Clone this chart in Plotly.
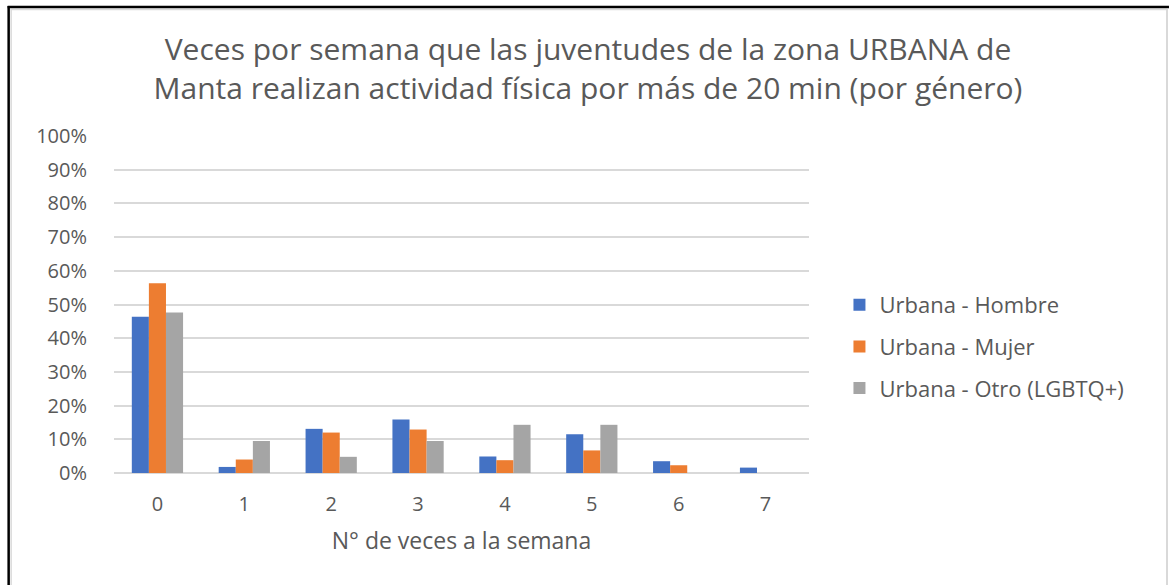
import plotly.graph_objects as go

# Weekly frequency of 20+ minute physical activity, by gender (share of respondents)
categories = ["0", "1", "2", "3", "4", "5", "6", "7"]
hombre = [0.464, 0.018, 0.131, 0.159, 0.049, 0.115, 0.035, 0.016]
mujer = [0.563, 0.040, 0.120, 0.129, 0.038, 0.067, 0.023, 0.0]
otro = [0.476, 0.095, 0.048, 0.095, 0.143, 0.143, 0.0, 0.0]

series_names = ["Urbana - Hombre", "Urbana - Mujer", "Urbana - Otro (LGBTQ+)"]
series_values = [hombre, mujer, otro]
series_colors = ["#4472C4", "#ED7D31", "#A5A5A5"]

W, H = 1170, 585
L, R, T, B = 113.5, 360.5, 136, 112
plot_w = W - L - R
plot_h = H - T - B

TEXT = "#595959"
FONT = "Open Sans"

fig = go.Figure()
for i, (name, vals, col) in enumerate(zip(series_names, series_values, series_colors)):
    fig.add_trace(go.Bar(
        x=categories, y=vals, name=name,
        marker=dict(color=col, line=dict(width=0)),
        legendgroup=f"g{i}",
    ))


def px_x(px):
    return (px - L) / plot_w


def px_y(py):
    return (H - B - py) / plot_h


shapes = [
    # outer frame: light inner border plus dark outline on top/left
    dict(type="line", xref="paper", yref="paper", x0=px_x(10), x1=px_x(1168),
         y0=px_y(9.5), y1=px_y(9.5), line=dict(color="#d9d9d9", width=1.5)),
    dict(type="line", xref="paper", yref="paper", x0=px_x(10.5), x1=px_x(10.5),
         y0=px_y(9), y1=px_y(585), line=dict(color="#d9d9d9", width=1.5)),
    dict(type="line", xref="paper", yref="paper", x0=px_x(1168), x1=px_x(1168),
         y0=px_y(9), y1=px_y(585), line=dict(color="#d9d9d9", width=2)),
    dict(type="line", xref="paper", yref="paper", x0=px_x(7), x1=px_x(1170),
         y0=px_y(7), y1=px_y(7), line=dict(color="#000000", width=2.5)),
    dict(type="line", xref="paper", yref="paper", x0=px_x(8), x1=px_x(8),
         y0=px_y(6), y1=px_y(585), line=dict(color="#000000", width=2.5)),
]

fig.update_layout(
    width=W, height=H,
    margin=dict(l=L, r=R, t=T, b=B, autoexpand=False),
    paper_bgcolor="white", plot_bgcolor="white",
    font=dict(family=FONT, color=TEXT, size=20),
    title=dict(
        text="Veces por semana que las juventudes de la zona URBANA de<br>"
             "Manta realizan actividad física por más de 20 min (por género)",
        x=588 / W, xanchor="center", y=1 - 60 / H, yanchor="middle",
        font=dict(family=FONT, size=30, color=TEXT),
    ),
    barmode="group", bargap=0.41, bargroupgap=0,
    showlegend=True,
    legend=dict(
        x=px_x(840), xanchor="left", y=px_y(284), yanchor="top",
        font=dict(family=FONT, size=22, color=TEXT),
        traceorder="grouped", tracegroupgap=10,
        itemwidth=30, bgcolor="rgba(0,0,0,0)",
    ),
    shapes=shapes,
)

fig.update_xaxes(
    showgrid=False, showline=False, zeroline=False,
    ticks="outside", ticklen=13, tickcolor="white",
    tickfont=dict(family=FONT, size=20, color=TEXT),
    title=dict(text="N° de veces a la semana", standoff=16,
               font=dict(family=FONT, size=23, color=TEXT)),
)
fig.update_yaxes(
    range=[0, 1], dtick=0.1, tickformat=".0%",
    showgrid=True, gridcolor="#d9d9d9", gridwidth=1.5,
    zeroline=True, zerolinecolor="#d9d9d9", zerolinewidth=1.5,
    showline=False,
    ticks="outside", ticklen=22, tickcolor="white",
    tickfont=dict(family=FONT, size=20, color=TEXT),
)

fig.write_html("out.html")
